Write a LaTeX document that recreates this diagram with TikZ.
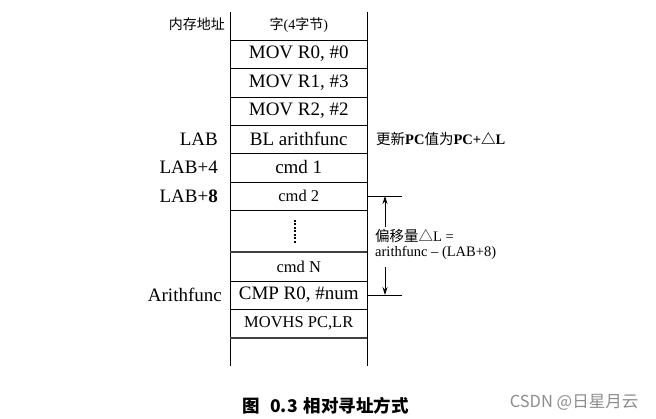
\documentclass[tikz,border=0pt]{standalone}
\usepackage{fontspec}
\setmainfont{Liberation Serif}
\newfontfamily\cjk{Noto Sans CJK SC}
\usetikzlibrary{arrows.meta}
\begin{document}
\begin{tikzpicture}[x=1pt,y=-1pt,
  cell/.style={draw, line width=0.9pt, minimum width=136.5pt, inner sep=0pt,
    font=\fontsize{19}{19}\selectfont},
  smallcell/.style={cell, font=\fontsize{16.5}{16.5}\selectfont},
  addr/.style={anchor=east, inner sep=0pt, font=\fontsize{19}{19}\selectfont},
  note/.style={anchor=west, inner sep=0pt, align=left,
    font=\fontsize{14.5}{15}\selectfont},
  tip/.style={-{Stealth[length=8pt,width=5pt]}, line width=0.8pt},
  rule/.style={line width=0.9pt}]
\useasboundingbox (0,0) rectangle (656,419);

% column edges of the memory map
\draw[rule] (230.5,12) -- (230.5,366);
\draw[rule] (367,12) -- (367,366);

% header
\node[font=\fontsize{14}{14}\selectfont] (hdr) at (298.75,25)
  {{\cjk 字}(4{\cjk 字节})};
\node[anchor=east, inner sep=0pt, font=\fontsize{14}{14}\selectfont] (memaddr)
  at (225,24) {\cjk 内存地址};

% memory words
\node[cell, minimum height=28pt] (w0) at (298.75,54)   {MOV R0, \#0};
\node[cell, minimum height=29pt] (w1) at (298.75,82.5) {MOV R1, \#3};
\node[cell, minimum height=28pt] (w2) at (298.75,111)  {MOV R2, \#2};
\node[cell, minimum height=28pt] (w3) at (298.75,139)  {BL arithfunc};
\node[cell, minimum height=29pt] (w4) at (298.75,167.5){cmd 1};
\node[smallcell, minimum height=28pt] (w5) at (298.75,196) {cmd 2};
\node[cell, minimum height=42pt] (w6) at (298.75,231)  {};
\node[smallcell, minimum height=29pt] (w7) at (298.75,266.5) {cmd N};
\node[cell, minimum height=28pt] (w8) at (298.75,295)  {CMP R0, \#num};
\node[smallcell, minimum height=29pt] (w9) at (298.75,323.5) {MOVHS PC,LR};

% heavier separators
\draw[line width=2pt, black!75] (w6.south west) -- (w6.south east);
\draw[line width=2pt, black!75] (w9.south west) -- (w9.south east);

% ellipsis in the gap
\draw[line width=2.2pt, dash pattern=on 1.6pt off 1.9pt] (295,220) -- (295,243.5);

% addresses
\node[addr] (lab)  at (218,139)   {LAB};
\node[addr] (lab4) at (218,167.5) {LAB+4};
\node[addr] (lab8) at (218,196)   {LAB+\textbf{8}};
\node[addr] (fn)   at (222,295)   {Arithfunc};

% notes
\node[note] (upd) at (376,139)
  {{\cjk 更新}\textbf{PC}{\cjk 值为}\textbf{PC+{\cjk △}L}};
\node[note] (offs) at (375,244.5)
  {{\cjk 偏移量△}L =\\arithfunc -- (LAB+8)};

% offset span
\coordinate (t1) at (402,196);
\coordinate (t2) at (402,295);
\draw[rule] (w5.east |- t1) -- (t1);
\draw[rule] (w8.east |- t2) -- (t2);
\coordinate (a1) at (385,196);
\coordinate (a2) at (385,227);
\coordinate (a3) at (385,267);
\coordinate (a4) at (385,295);
\draw[tip] (a2) -- (a1);
\draw[tip] (a3) -- (a4);

% caption and credit
\node[font=\cjk\bfseries\fontsize{17.5}{17.5}\selectfont] (cap) at (325.5,406)
  {图\hspace{0.6em}0.3\hspace{0.35em}相对寻址方式};
\node[font=\cjk\fontsize{16.5}{16.5}\selectfont, text=black!45] (credit) at (574,402)
  {CSDN @日星月云};
\end{tikzpicture}
\end{document}
